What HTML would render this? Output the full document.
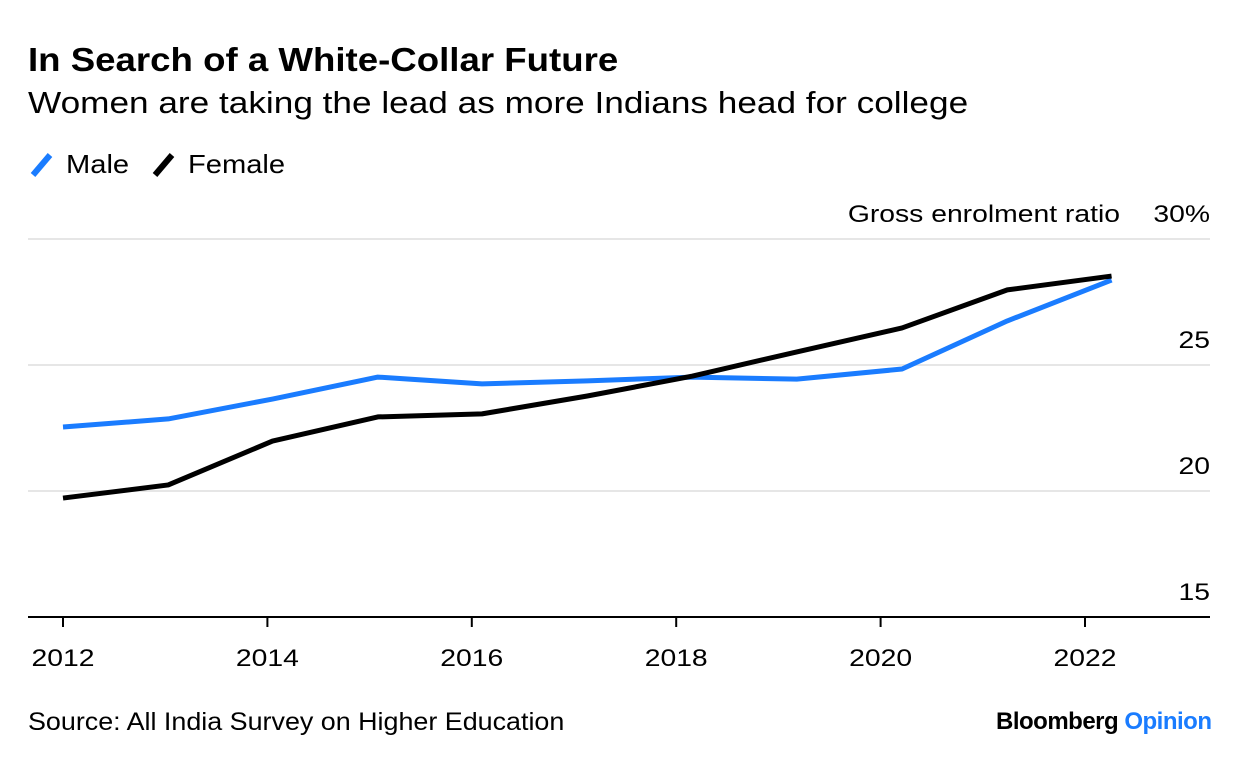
<!DOCTYPE html>
<html><head><meta charset="utf-8">
<style>
body{margin:0;background:#fff;font-family:"Liberation Sans",sans-serif;}
#wrap{position:relative;width:1240px;height:766px;overflow:hidden;}
.t{position:absolute;white-space:nowrap;color:#000;transform-origin:0 0;}
</style></head><body>
<div id="wrap">
<div class="t" style="left:28px;top:41px;font-size:33px;font-weight:bold;transform:scaleX(1.11);">In Search of a White-Collar Future</div>
<div class="t" style="left:28px;top:85px;font-size:31px;transform:scaleX(1.135);">Women are taking the lead as more Indians head for college</div>
<div>
<svg style="position:absolute;left:28px;top:150px" width="30" height="30"><line x1="5" y1="25" x2="22" y2="5" stroke="#1a7cff" stroke-width="6"/></svg>
<div class="t" style="left:66px;top:149px;font-size:26px;transform:scaleX(1.12);">Male</div>
<svg style="position:absolute;left:150px;top:150px" width="30" height="30"><line x1="5" y1="25" x2="22" y2="5" stroke="#000" stroke-width="6"/></svg>
<div class="t" style="left:188px;top:149px;font-size:26px;transform:scaleX(1.12);">Female</div>
</div>
<svg id="plot" style="position:absolute;left:0;top:0" width="1240" height="766"></svg>
<div class="t" style="left:28px;top:708px;font-size:25px;transform:scaleX(1.075);">Source: All India Survey on Higher Education</div>
<div class="t" style="left:996px;top:708px;font-size:24px;font-weight:bold;letter-spacing:-0.5px;">Bloomberg <span style="color:#1a7cff">Opinion</span></div>
</div>
<script>
const years=[2012,2013.03,2014.05,2015.08,2016.1,2017.13,2018.16,2019.18,2020.21,2021.24,2022.26];
const male=[22.54,22.86,23.65,24.52,24.25,24.37,24.52,24.44,24.84,26.75,28.37];
const female=[19.72,20.24,21.98,22.94,23.06,23.77,24.56,25.52,26.47,27.98,28.53];
const yTicks=[15,20,25,30];
const yTickLabels=["15","20","25","30%"];
const xTicks=[2012,2014,2016,2018,2020,2022];
const NS="http://www.w3.org/2000/svg";
const svg=document.getElementById('plot');
const x=v=>63+(v-2012)*102.2;
const y=v=>617-(v-15)*25.2;
function mk(t,a){const e=document.createElementNS(NS,t);for(const k in a)e.setAttribute(k,a[k]);svg.appendChild(e);return e;}
function txt(s,px,py,anchor){const t=mk('text',{x:0,y:0,'text-anchor':anchor,'font-size':24,'font-family':'Liberation Sans',transform:'translate('+px+','+py+') scale(1.18,1)'});t.textContent=s;return t;}
yTicks.forEach((v,i)=>{
  if(v>15){const g=mk('line',{x1:28,x2:1210,y1:y(v),y2:y(v),stroke:'#e6e6e6','stroke-width':2});
  
  }
  const t=txt(yTickLabels[i],1210,y(v)-17,'end');
  
  
});
const yt=txt('Gross enrolment ratio',1120,y(30)-17,'end');


const ax=mk('line',{x1:28,x2:1210,y1:617,y2:617,stroke:'#000','stroke-width':2});


xTicks.forEach(v=>{
  const l=mk('line',{x1:x(v),x2:x(v),y1:617,y2:627,stroke:'#000','stroke-width':2});
  
  
  const t=txt(String(v),x(v),666,'middle');
  
  
});
function line(vals,color,name){
  const p=mk('polyline',{points:vals.map((v,i)=>x(years[i])+','+y(v)).join(' '),fill:'none',stroke:color,'stroke-width':5,'stroke-linejoin':'round'});
  
  
}
line(male,'#1a7cff','male-line');
line(female,'#000','female-line');
</script>
</body></html>
